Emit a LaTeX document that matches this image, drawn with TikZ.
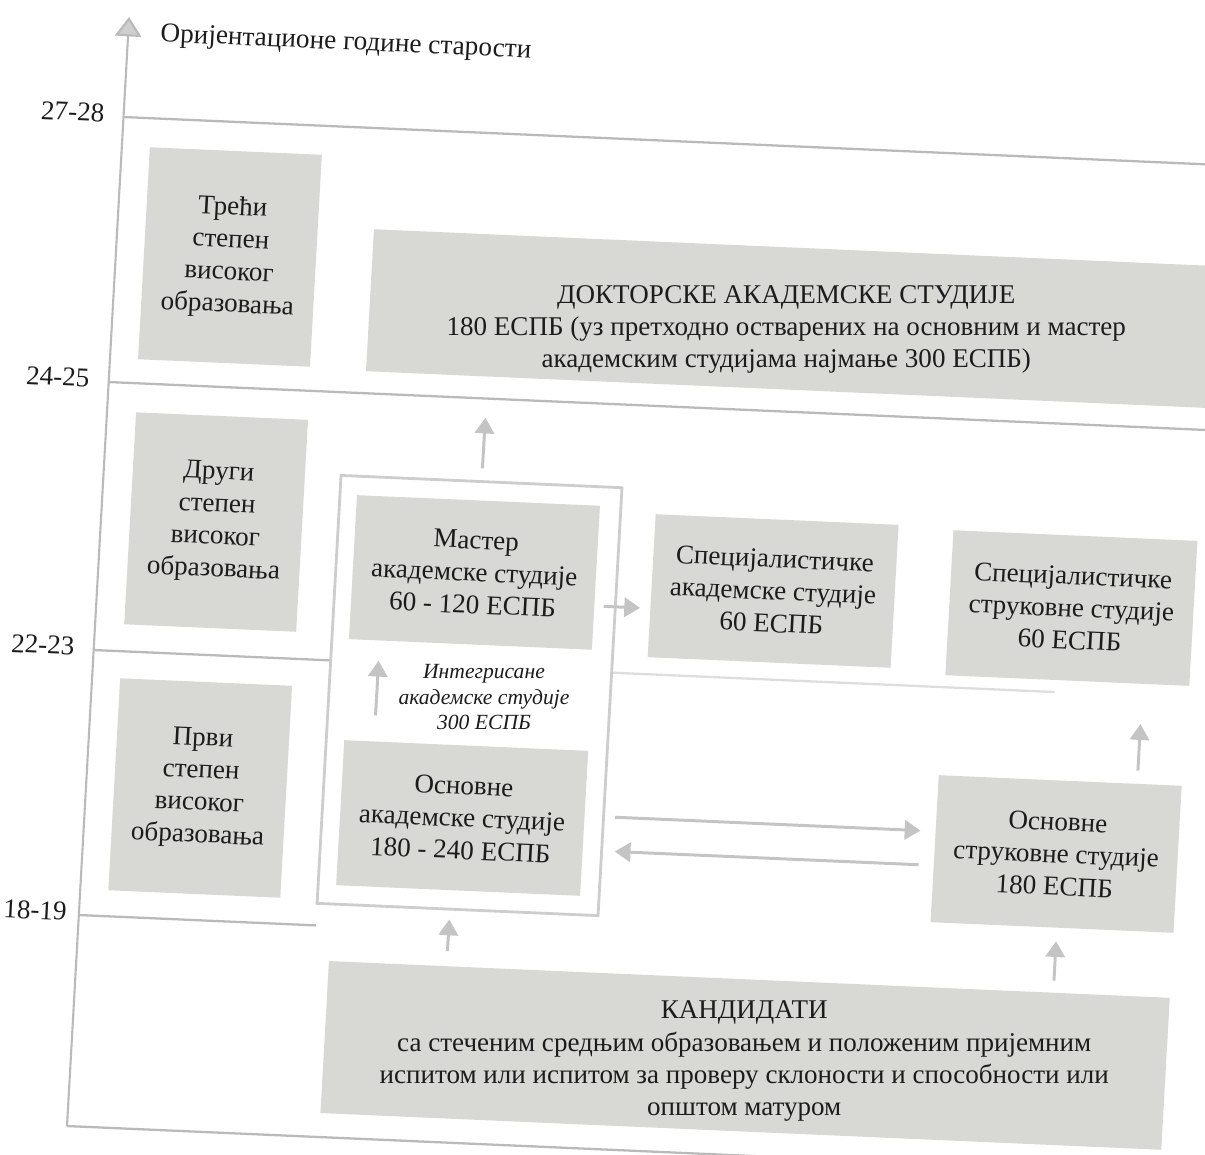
\documentclass[tikz,border=0pt]{standalone}
\usepackage{fontspec}
\setmainfont{Liberation Serif}
\newfontfamily\srbfont[Script=Cyrillic,Language=Serbian]{Liberation Serif}
\usetikzlibrary{calc,arrows.meta}
\definecolor{boxgray}{RGB}{216,216,213}
\definecolor{linegray}{RGB}{186,186,186}
\definecolor{arrgray}{RGB}{196,196,196}
\definecolor{framegray}{RGB}{205,205,205}
\definecolor{inkc}{RGB}{28,28,28}
\newcommand\bxfont{\fontsize{15.4}{18.4}\selectfont}
\begin{document}
\begin{tikzpicture}[x=0.02cm,y=-0.02cm]
\path[use as bounding box] (0,0) rectangle (1205,1155);
\clip (0,0) rectangle (1205,1155);
\begin{scope}[cm={1,-0.0437,0.056,1,(0.646cm,0.526cm)},
  lvl/.style={draw=linegray, line width=1.3pt},
  gbox/.style={transform shape, fill=boxgray, draw=none, inner sep=0pt, align=center, text=inkc, font=\bxfont},
  txt/.style={text=inkc, font=\bxfont, align=center, inner sep=0pt},
  conn/.style={draw=arrgray, line width=1.7pt, -{Triangle[width=11pt,length=9pt]}},
  agelbl/.style={transform shape, anchor=east, text=inkc, font=\bxfont, inner sep=0pt}]
% level lines and axis
\draw[lvl] (99,139) -- (1215,139);
\draw[lvl] (99,404) -- (1215,404);
\draw[lvl] (99,672) -- (336,672);
\draw[lvl, draw=linegray!50] (617,672) -- (1060,672);
\draw[lvl] (99,937) -- (336,937);
\draw[lvl] (99,1148) -- (1215,1148);
\draw[draw=linegray, line width=1.2pt, -{Triangle[width=15pt,length=11pt,fill=linegray!70]}] (99,1148) -- (99,39);
% labels
\node[transform shape, anchor=west, text=inkc, font=\fontsize{15.5}{18}\selectfont, inner sep=0pt] (title) at (131,56) {Оријентационе године старости};
\node[agelbl] (a2728) at (80,136) {27-28};
\node[agelbl] (a2425) at (80,401) {24-25};
\node[agelbl] (a2223) at (80,669) {22-23};
\node[agelbl] (a1819) at (87,934) {18-19};
% left column
\node[gbox, minimum width=3.44cm, minimum height=4.24cm] (treci) at (213,274) {Трећи\\степен\\високог\\образовања};
\node[gbox, minimum width=3.44cm, minimum height=4.24cm] (drugi) at (214,539) {Други\\степен\\високог\\образовања};
\node[gbox, minimum width=3.44cm, minimum height=4.24cm] (prvi) at (213,805) {Први\\степен\\високог\\образовања};
% doctoral
\node[gbox, minimum width=17.2cm, minimum height=2.84cm] (doc) at (785,311) {};
\node[txt] (doctext) at (772,322) {ДОКТОРСКЕ АКАДЕМСКЕ СТУДИЈЕ\\180 ЕСПБ (уз претходно остварених на основним и мастер\\академским студијама најмање 300 ЕСПБ)};
% frame
\node[transform shape, draw=framegray, line width=1.6pt, fill=white, minimum width=5.62cm, minimum height=8.56cm, inner sep=0pt] (frame) at (476.5,701) {};
% middle boxes
\node[gbox, minimum width=4.86cm, minimum height=2.88cm] (master) at (474.5,578) {Мастер\\академске студије\\60 - 120 ЕСПБ};
\node[gbox, minimum width=4.86cm, minimum height=2.86cm] (specak) at (773.5,583.5) {Специјалистичке\\академске студије\\60 ЕСПБ};
\node[gbox, minimum width=4.88cm, minimum height=2.90cm] (specst) at (1072,587.5) {Специјалистичке\\струковне студије\\60 ЕСПБ};
\node[gbox, minimum width=4.88cm, minimum height=2.90cm] (osnak) at (476,823.5) {Основне\\академске студије\\180 - 240 ЕСПБ};
\node[gbox, minimum width=4.86cm, minimum height=2.94cm] (osnst) at (1070.5,833.5) {Основне\\струковне студије\\180 ЕСПБ};
\node[gbox, minimum width=16.82cm, minimum height=3.04cm] (kand) at (771.5,1048) {};
\node[txt] (kandtext) at (771,1054) {КАНДИДАТИ\\са стеченим средњим образовањем и положеним пријемним\\испитом или испитом за проверу склоности и способности или\\општом матуром};
\node[text=inkc, align=center, inner sep=0pt, font=\srbfont\itshape\fontsize{12.3}{14.4}\selectfont] (integ) at (491,702) {Интегрисане\\академске студије\\300 ЕСПБ};
% connectors
\draw[conn, shorten <=6.8pt, shorten >=23.2pt] (frame.north) -- ($(doc.south west)!0.142!(doc.south east)$);
\draw[conn, shorten <=14.7pt, shorten >=11.3pt] ($(osnak.north west)!0.123!(osnak.north east)$) -- ($(master.south west)!0.128!(master.south east)$);
\draw[conn, shorten <=5.1pt, shorten >=5.7pt] ($(master.north east)!0.694!(master.south east)$) -- ($(specak.north west)!0.657!(specak.south west)$);
\draw[conn, shorten <=17pt, shorten >=8.5pt] ($(osnak.north east)!0.448!(osnak.south east)$) -- ($(osnst.north west)!0.381!(osnst.south west)$);
\draw[conn, shorten <=8.5pt, shorten >=18pt] ($(osnst.north west)!0.612!(osnst.south west)$) -- ($(osnak.north east)!0.683!(osnak.south east)$);
\draw[conn, shorten <=8.5pt, shorten >=16.4pt] ($(kand.north west)!0.140!(kand.north east)$) -- ($(osnak.south west)!0.471!(osnak.south east)$);
\draw[conn, shorten <=6.8pt, shorten >=7.4pt] ($(kand.north west)!0.861!(kand.north east)$) -- ($(osnst.south west)!0.519!(osnst.south east)$);
\draw[conn, shorten <=7.4pt, shorten >=22.7pt] ($(osnst.north west)!0.815!(osnst.north east)$) -- ($(specst.south west)!0.807!(specst.south east)$);
\end{scope}
\end{tikzpicture}
\end{document}
